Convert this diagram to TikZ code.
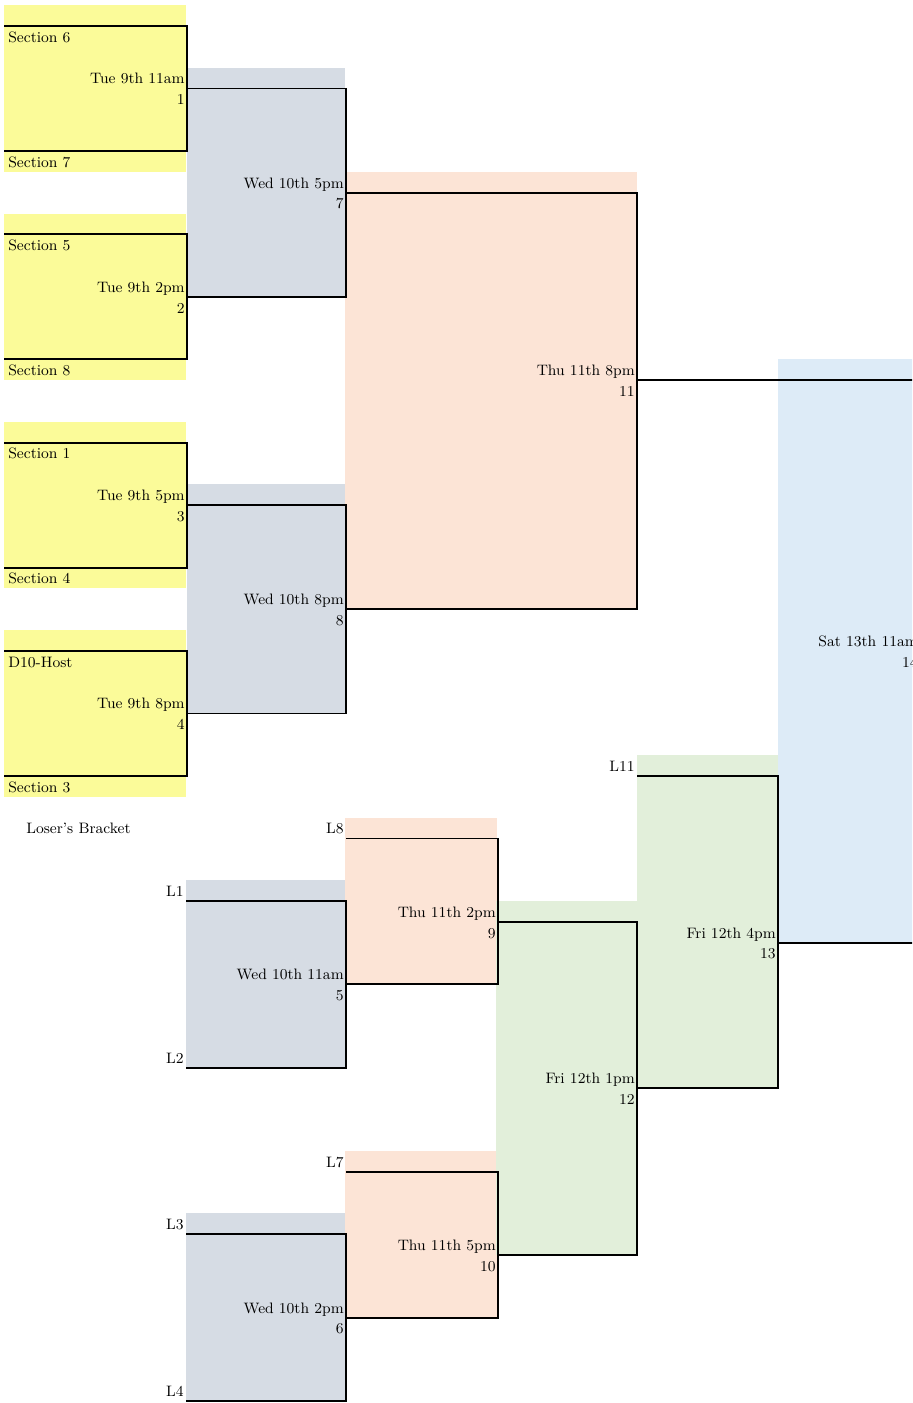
\documentclass[tikz,border=0pt]{standalone}
\definecolor{secyellow}{HTML}{FBFB99}
\definecolor{wedgray}{HTML}{D6DCE4}
\definecolor{thupeach}{HTML}{FCE4D6}
\definecolor{frigreen}{HTML}{E2EFDA}
\definecolor{satblue}{HTML}{DDEBF7}
\begin{document}
\begin{tikzpicture}[x=0.02cm, y=-0.41667cm,
  bline/.style={line width=1.1pt, line join=miter},
  txt/.style={inner sep=0pt, font=\fontsize{8.6}{10}\selectfont},
  rt/.style={txt, anchor=base east},
  lt/.style={txt, anchor=base west}]
\useasboundingbox (0,-0.25) rectangle (912,67.1);
\clip (0,-0.25) rectangle (912,67.1);
% fills
\fill[secyellow](4,0)rectangle(186,8);
\fill[secyellow](4,10)rectangle(186,18);
\fill[secyellow](4,20)rectangle(186,28);
\fill[secyellow](4,30)rectangle(186,38);
\fill[wedgray](187,3)rectangle(345,14);
\fill[wedgray](187,23)rectangle(345,34);
\fill[wedgray](186,42)rectangle(345,51);
\fill[wedgray](186,58)rectangle(345,67);
\fill[thupeach](345,8)rectangle(637,29);
\fill[thupeach](345,39)rectangle(497,47);
\fill[thupeach](345,55)rectangle(497,63);
\fill[frigreen](496,43)rectangle(637,60);
\fill[frigreen](637,36)rectangle(778,52);
\fill[satblue](778,17)rectangle(930,45);
% winner's bracket
\draw[bline](4,1)--(187,1)--(187,7)--(4,7);
\draw[bline](4,11)--(187,11)--(187,17)--(4,17);
\draw[bline](4,21)--(187,21)--(187,27)--(4,27);
\draw[bline](4,31)--(187,31)--(187,37)--(4,37);
\draw[bline](187,4)--(346,4)--(346,14)--(187,14);
\draw[bline](187,24)--(346,24)--(346,34)--(187,34);
\draw[bline](346,9)--(637,9)--(637,29)--(346,29);
\draw[bline](637,18)--(930,18);
\draw[bline](778,45)--(930,45);
% loser's bracket
\draw[bline](186,43)--(346,43)--(346,51)--(186,51);
\draw[bline](186,59)--(346,59)--(346,67)--(186,67);
\draw[bline](346,40)--(498,40)--(498,47)--(346,47);
\draw[bline](346,56)--(498,56)--(498,63)--(346,63);
\draw[bline](498,44)--(637,44)--(637,60)--(498,60);
\draw[bline](637,37)--(778,37)--(778,52)--(637,52);
% sections
\node[lt](s6) at (8,1.78){Section 6};
\node[lt](s7) at (8,7.78){Section 7};
\node[lt](s5) at (8,11.78){Section 5};
\node[lt](s8) at (8,17.78){Section 8};
\node[lt](s1) at (8,21.78){Section 1};
\node[lt](s4) at (8,27.78){Section 4};
\node[lt](host) at (8,31.78){D10-Host};
\node[lt](s3) at (8,37.78){Section 3};
\node[lt](lb) at (26,39.78){Loser's Bracket};
% games
\node[rt](t1) at (185,3.78){Tue 9th 11am};
\node[rt](g1) at (185,4.78){1};
\node[rt](t2) at (185,13.78){Tue 9th 2pm};
\node[rt](g2) at (185,14.78){2};
\node[rt](t3) at (185,23.78){Tue 9th 5pm};
\node[rt](g3) at (185,24.78){3};
\node[rt](t4) at (185,33.78){Tue 9th 8pm};
\node[rt](g4) at (185,34.78){4};
\node[rt](t7) at (344,8.78){Wed 10th 5pm};
\node[rt](g7) at (344,9.78){7};
\node[rt](t8) at (344,28.78){Wed 10th 8pm};
\node[rt](g8) at (344,29.78){8};
\node[rt](t5) at (344,46.78){Wed 10th 11am};
\node[rt](g5) at (344,47.78){5};
\node[rt](t6) at (344,62.78){Wed 10th 2pm};
\node[rt](g6) at (344,63.78){6};
\node[rt](t9) at (496,43.78){Thu 11th 2pm};
\node[rt](g9) at (496,44.78){9};
\node[rt](t10) at (496,59.78){Thu 11th 5pm};
\node[rt](g10) at (496,60.78){10};
\node[rt](t11) at (635,17.78){Thu 11th 8pm};
\node[rt](g11) at (635,18.78){11};
\node[rt](t12) at (635,51.78){Fri 12th 1pm};
\node[rt](g12) at (635,52.78){12};
\node[rt](t13) at (776,44.78){Fri 12th 4pm};
\node[rt](g13) at (776,45.78){13};
\node[rt](t14) at (918,30.78){Sat 13th 11am};
\node[rt](g14) at (918,31.78){14};
% losers in
\node[rt](l1) at (184,42.78){L1};
\node[rt](l2) at (184,50.78){L2};
\node[rt](l3) at (184,58.78){L3};
\node[rt](l4) at (184,66.78){L4};
\node[rt](l8) at (344,39.78){L8};
\node[rt](l7) at (344,55.78){L7};
\node[rt](l11) at (635,36.78){L11};
\end{tikzpicture}
\end{document}
